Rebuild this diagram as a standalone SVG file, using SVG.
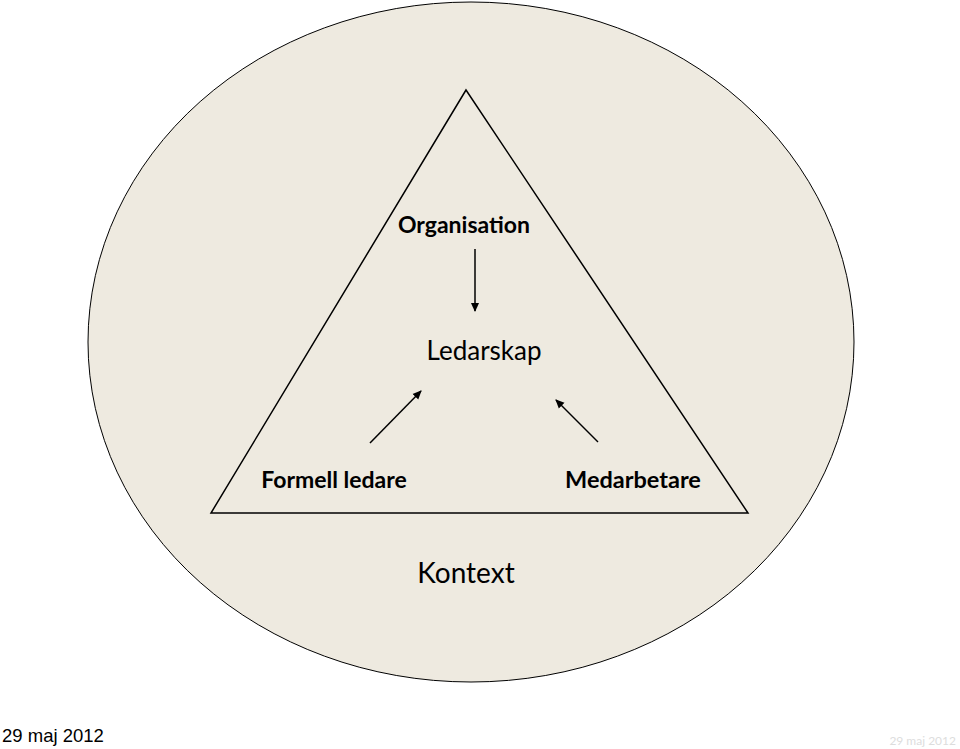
<svg xmlns="http://www.w3.org/2000/svg" width="960" height="749" viewBox="0 0 960 749">
<style>
.t{font-family:Lato,"Open Sans","Liberation Sans",sans-serif;fill:#000}
.c{stroke:#000;stroke-width:1.5;fill:none;marker-end:url(#a)}
</style>
<defs><marker id="a" markerWidth="10" markerHeight="10" refX="8" refY="5" orient="auto" markerUnits="userSpaceOnUse"><path d="M0,1 L9,5 L0,9 z" fill="#000"/></marker></defs>
<rect width="960" height="749" fill="#fff"/>
<g id="context"><ellipse cx="471" cy="342" rx="383" ry="340" fill="#EEEAE0" stroke="#000" stroke-width="1"/>
<text class="t" x="466" y="583" font-size="28" text-anchor="middle">Kontext</text></g>
<g id="triangle"><polygon points="466,90 211,513 748,513" fill="none" stroke="#000" stroke-width="1.5"/></g>
<g id="organisation"><text class="t" x="464" y="233" font-size="23" font-weight="bold" text-anchor="middle">Organisation</text></g>
<g id="ledarskap"><text class="t" x="484" y="360" font-size="26" text-anchor="middle">Ledarskap</text></g>
<g id="formell"><text class="t" x="334" y="488" font-size="23" font-weight="bold" text-anchor="middle">Formell ledare</text></g>
<g id="medarbetare"><text class="t" x="633" y="488" font-size="23.5" font-weight="bold" text-anchor="middle">Medarbetare</text></g>
<g id="connectors">
<line class="c" x1="475" y1="249" x2="475" y2="311"/>
<line class="c" x1="370" y1="443" x2="421" y2="391"/>
<line class="c" x1="598" y1="442" x2="556" y2="400"/>
</g>
<text class="t" x="2" y="742" font-size="18.5" style="font-family:'Liberation Sans',sans-serif">29 maj 2012</text>
<text class="t" x="956" y="745" font-size="12" text-anchor="end" style="fill:#ddd">29 maj 2012</text>
</svg>
